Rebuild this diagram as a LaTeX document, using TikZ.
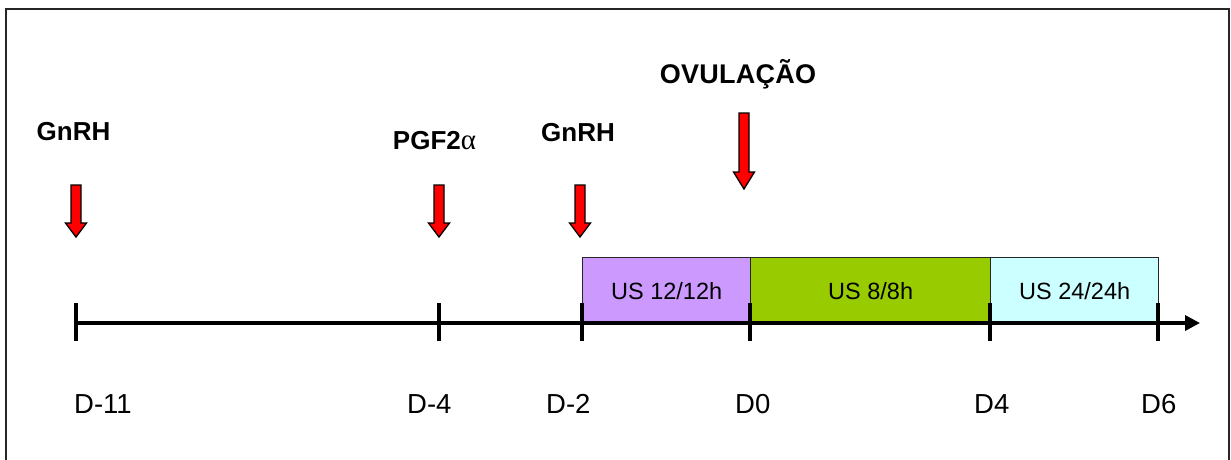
\documentclass[tikz,border=0pt]{standalone}
\usepackage{fontspec}
\setmainfont{Liberation Sans}
\newfontfamily\greekfont{Liberation Serif}
\usetikzlibrary{arrows.meta}
\definecolor{uspurple}{HTML}{CC99FF}
\definecolor{usgreen}{HTML}{99CC00}
\definecolor{uscyan}{HTML}{CCFFFF}
\newcommand\redarr[4]{%
  \draw[arrowshape] (#1-5,#2) -- (#1+5,#2) -- (#1+5,#3) -- (#1+10.5,#3) -- (#1,#4) -- (#1-10.5,#3) -- (#1-5,#3) -- cycle;}
\begin{document}
\begin{tikzpicture}[x=1pt,y=-1pt,
  arrowshape/.style={fill=red,draw=black,line width=1.3pt,line join=miter},
  drug/.style={font=\fontsize{26}{30}\selectfont\bfseries,inner sep=0pt,anchor=base},
  day/.style={font=\fontsize{27.5}{30}\selectfont,inner sep=0pt,anchor=base west},
  usbox/.style={draw=black!85,line width=1.3pt,minimum height=67pt,inner sep=0pt,anchor=north west,font=\fontsize{23.5}{26}\selectfont},
  tick/.style={line width=3.5pt},
  axis/.style={line width=3.5pt,-{Triangle[length=15pt,width=15pt]}}]
\useasboundingbox (0,0) rectangle (1231,459);
\draw[line width=1.8pt,black!85] (6,9) rectangle (1229,475);

% boxes
\node[usbox,fill=uspurple,minimum width=168pt] (b1) at (582,257) {US 12/12h};
\node[usbox,fill=usgreen,minimum width=240pt] (b2) at (750,257) {US 8/8h};
\node[usbox,fill=uscyan,minimum width=168pt] (b3) at (990,257) {US 24/24h};

% timeline
\coordinate (t1) at (76,323);
\coordinate (t2) at (439,323);
\coordinate (t3) at (582,323);
\coordinate (t4) at (750,323);
\coordinate (t5) at (990,323);
\coordinate (t6) at (1158,323);
\coordinate (tend) at (1200,323);
\draw[axis] (t1) -- (tend);
\foreach \t in {t1,t2,t3,t4,t5,t6}
  \draw[tick] ([yshift=-18pt]\t) -- ([yshift=20pt]\t);

% day labels
\node[day] (d1) at (74,413) {D-11};
\node[day] (d2) at (407,413) {D-4};
\node[day] (d3) at (546,413) {D-2};
\node[day] (d4) at (735,413) {D0};
\node[day] (d5) at (974,413) {D4};
\node[day] (d6) at (1141,413) {D6};

% drug labels
\node[drug] (g1) at (73.5,140) {GnRH};
\node[drug] (pg) at (434.5,149) {PGF2{\greekfont\mdseries\fontsize{29}{30}\selectfont α}};
\node[drug] (g2) at (578,141) {GnRH};
\node[drug,font=\fontsize{27}{30}\selectfont\bfseries\addfontfeature{LetterSpace=1}] (ov) at (738,83) {OVULAÇÃO};

% red arrows
\redarr{76}{185}{223}{237}
\redarr{439}{185}{223}{237}
\redarr{580}{185}{223}{237}
\redarr{744}{113}{172}{189}
\end{tikzpicture}
\end{document}
